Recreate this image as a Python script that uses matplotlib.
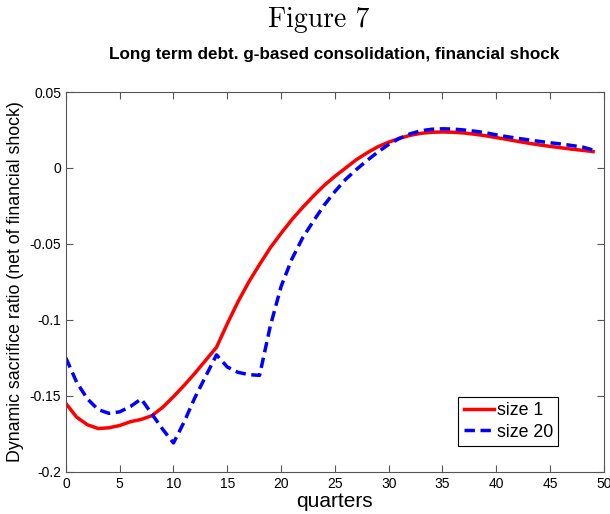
import numpy as np
import matplotlib.pyplot as plt

quarters = np.arange(50)

size_1 = [-0.155, -0.164, -0.169, -0.1715, -0.171, -0.1695, -0.167, -0.1655, -0.163, -0.1575,
          -0.1505, -0.143, -0.135, -0.1265, -0.118, -0.1025, -0.088, -0.075, -0.0635, -0.0525,
          -0.043, -0.034, -0.026, -0.0185, -0.0115, -0.0055, 0.0, 0.0055, 0.010, 0.014,
          0.017, 0.0195, 0.0215, 0.0228, 0.0235, 0.0237, 0.0235, 0.023, 0.0222, 0.0212,
          0.020, 0.0188, 0.0175, 0.0163, 0.0152, 0.0142, 0.0133, 0.0124, 0.0116, 0.0108]

size_20 = [-0.125, -0.141, -0.152, -0.159, -0.1615, -0.1605, -0.157, -0.152, -0.162, -0.172,
           -0.181, -0.167, -0.151, -0.137, -0.123, -0.131, -0.1345, -0.136, -0.1365, -0.104,
           -0.078, -0.060, -0.046, -0.035, -0.0245, -0.0155, -0.0075, -0.001, 0.005, 0.0105,
           0.0155, 0.0195, 0.0225, 0.0245, 0.0255, 0.0258, 0.0256, 0.025, 0.0242, 0.0232,
           0.0218, 0.0206, 0.0195, 0.0185, 0.0175, 0.0166, 0.0158, 0.0148, 0.0138, 0.0118]

xticks = np.arange(0, 51, 5)
yticks = [-0.2, -0.15, -0.1, -0.05, 0, 0.05]
ytick_labels = ['-0.2', '-0.15', '-0.1', '-0.05', '0', '0.05']

plt.rcParams['font.family'] = ['Liberation Sans', 'DejaVu Sans']

fig = plt.figure(figsize=(6.1, 5.14), dpi=100)
ax = fig.add_axes([0.108, 0.082, 0.882, 0.739])

ax.plot(quarters, size_1, color='red', lw=2.5, label='size 1')
ax.plot(quarters, size_20, color='blue', lw=2.5, ls=(0, (3, 1.6)), label='size 20')

ax.set_xlim(0, 50)
ax.set_ylim(-0.2, 0.05)
ax.set_xticks(xticks)
ax.set_yticks(yticks)
ax.set_yticklabels(ytick_labels)
ax.tick_params(direction='in', top=True, right=True, labelsize=10, length=5, color='#555555')
for s in ax.spines.values():
    s.set_color('#555555')

ax.set_xlabel('quarters', fontsize=15, labelpad=1)
ax.set_ylabel('Dynamic sacrifice ratio (net of financial shock)', fontsize=12.8, labelpad=4)

leg = ax.legend(loc='lower right', bbox_to_anchor=(0.915, 0.068), fontsize=12.8,
                handlelength=1.7, handletextpad=0.15, borderpad=0.3, labelspacing=0.25,
                borderaxespad=0, fancybox=False, edgecolor='black', framealpha=1)
leg.get_frame().set_linewidth(0.8)

fig.text(0.523, 0.961, 'Figure 7', family='cmr10', fontsize=20, ha='center', va='center')
fig.text(0.548, 0.893, 'Long term debt. g-based consolidation, financial shock',
         fontsize=12.3, fontweight='bold', ha='center', va='center')

fig.savefig('out.png', dpi=100)
